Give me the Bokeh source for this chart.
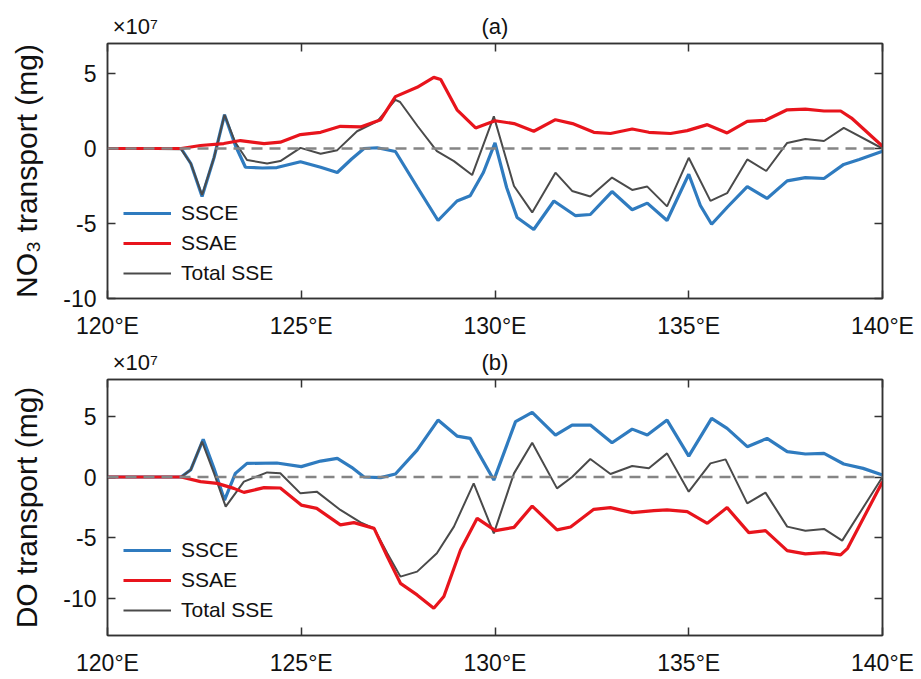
from bokeh.plotting import figure
from bokeh.models import Range1d, FixedTicker, LinearAxis, Legend, LegendItem, Span
from bokeh.layouts import column
from bokeh.embed import file_html
from bokeh.resources import INLINE

# ---------------- data (values in units of 1e7 mg) ----------------
x_ticks = [120, 125, 130, 135, 140]
x_tick_labels = ["120°E", "125°E", "130°E", "135°E", "140°E"]
y_ticks = [-10, -5, 0, 5]
y_tick_labels = ["-10", "-5", "0", "5"]
exponent_text = "×10⁷"

# Panel (a): NO3 transport
a_lon_ssce = [120.0, 121.9, 122.15, 122.44, 122.75, 123.02, 123.3, 123.56, 124.0, 124.37, 124.98,
              125.5, 125.93, 126.3, 126.62, 126.96, 127.43, 128.0, 128.53, 129.02, 129.36, 129.7,
              130.0, 130.3, 130.57, 131.0, 131.52, 132.08, 132.46, 133.02, 133.54, 133.93, 134.44,
              135.0, 135.3, 135.59, 136.0, 136.51, 137.02, 137.54, 138.01, 138.49, 139.0, 139.4, 140.0]
a_ssce = [0, 0, -1.0, -3.2, -0.6, 2.25, 0.2, -1.25, -1.3, -1.27, -0.88,
          -1.25, -1.6, -0.7, 0, 0.05, -0.2, -2.6, -4.8, -3.5, -3.15, -1.6,
          0.37, -2.6, -4.6, -5.4, -3.5, -4.48, -4.4, -2.87, -4.08, -3.64, -4.8,
          -1.72, -3.8, -5.05, -3.9, -2.54, -3.33, -2.16, -1.94, -2.0, -1.06, -0.73, -0.18]

a_lon_ssae = [120.0, 121.9, 122.4, 123.0, 123.43, 124.04, 124.46, 124.98, 125.5, 126.01, 126.53,
              127.05, 127.43, 127.99, 128.42, 128.6, 129.02, 129.5, 130.0, 130.49, 131.0, 131.56,
              132.0, 132.55, 132.98, 133.54, 133.97, 134.53, 134.96, 135.48, 135.99, 136.51,
              136.98, 137.54, 138.01, 138.49, 138.92, 139.2, 140.0]
a_ssae = [0, 0, 0.2, 0.33, 0.53, 0.33, 0.42, 0.93, 1.08, 1.48, 1.44,
          1.92, 3.46, 4.08, 4.74, 4.6, 2.58, 1.37, 1.85, 1.66, 1.15, 1.92,
          1.66, 1.08, 1.0, 1.3, 1.08, 1.0, 1.19, 1.59, 1.04, 1.81,
          1.88, 2.58, 2.62, 2.5, 2.5, 2.03, 0.15]

a_lon_total = [120.0, 121.9, 122.15, 122.44, 122.75, 123.02, 123.3, 123.6, 124.12, 124.46, 124.98,
               125.5, 125.93, 126.44, 126.96, 127.43, 127.55, 128.0, 128.5, 128.94, 129.41, 129.97,
               130.49, 130.96, 131.56, 131.99, 132.46, 133.02, 133.54, 133.93, 134.44, 135.0,
               135.56, 135.99, 136.51, 137.0, 137.54, 138.01, 138.49, 139.0, 140.0]
a_total = [0, -0.05, -1.0, -3.1, -0.6, 2.25, 0.4, -0.77, -1.0, -0.84, 0.04,
           -0.35, -0.11, 1.15, 1.81, 3.24, 3.1, 1.5, -0.18, -0.84, -1.77, 2.14,
           -2.5, -4.26, -1.61, -2.83, -3.2, -1.94, -2.76, -2.54, -3.86, -0.62,
           -3.49, -2.98, -0.73, -1.5, 0.37, 0.64, 0.5, 1.37, 0.0]

# Panel (b): DO transport
b_lon_ssce = [120.0, 121.9, 122.15, 122.47, 122.75, 123.02, 123.3, 123.6, 124.37, 125.0, 125.5,
              125.93, 126.3, 126.62, 127.05, 127.43, 127.99, 128.53, 129.02, 129.36, 129.97,
              130.53, 130.96, 131.56, 131.99, 132.46, 133.02, 133.54, 133.93, 134.44, 135.0,
              135.59, 135.99, 136.51, 137.02, 137.54, 138.01, 138.49, 139.0, 139.5, 140.0]
b_ssce = [0, 0, 0.6, 3.09, 0.7, -1.89, 0.3, 1.12, 1.15, 0.85, 1.31,
          1.53, 0.8, 0, -0.05, 0.25, 2.21, 4.67, 3.36, 3.17, -0.25,
          4.54, 5.3, 3.44, 4.26, 4.26, 2.81, 3.93, 3.44, 4.67, 1.72,
          4.81, 3.99, 2.49, 3.17, 2.08, 1.89, 1.94, 1.07, 0.71, 0.16]

b_lon_ssae = [120.0, 121.9, 122.4, 122.83, 123.26, 123.52, 124.04, 124.46, 125.0, 125.4, 126.01,
              126.36, 126.88, 127.22, 127.56, 127.99, 128.42, 128.68, 129.11, 129.54, 130.01,
              130.49, 130.96, 131.6, 131.95, 132.55, 132.98, 133.54, 134.1, 134.44, 134.96,
              135.48, 135.99, 136.55, 136.98, 137.54, 138.01, 138.49, 138.92, 139.1, 140.0]
b_ssae = [0, 0, -0.38, -0.52, -0.93, -1.26, -0.87, -0.9, -2.3, -2.57, -3.93,
          -3.74, -4.21, -6.53, -8.72, -9.67, -10.77, -9.8, -5.98, -3.39, -4.4,
          -4.13, -2.38, -4.34, -4.1, -2.65, -2.51, -2.92, -2.76, -2.7, -2.84,
          -3.8, -2.51, -4.56, -4.4, -6.04, -6.31, -6.2, -6.39, -5.85, -0.38]

b_lon_total = [120.0, 121.9, 122.15, 122.44, 122.75, 123.05, 123.52, 124.12, 124.46, 124.98, 125.4,
               126.01, 126.53, 126.88, 127.22, 127.56, 127.99, 128.5, 128.94, 129.45, 129.97,
               130.49, 130.96, 131.6, 131.99, 132.46, 132.98, 133.54, 133.97, 134.44, 135.0,
               135.56, 135.95, 136.51, 136.98, 137.54, 138.01, 138.49, 138.96, 140.0]
b_total = [0, 0, 0.6, 2.9, 0.3, -2.43, -0.38, 0.38, 0.31, -1.34, -1.2,
           -2.7, -3.72, -4.21, -6.26, -8.17, -7.76, -6.26, -4.07, -0.52, -4.62,
           0.3, 2.81, -0.93, 0.0, 1.48, 0.25, 0.9, 0.72, 1.94, -1.2,
           1.12, 1.45, -2.16, -1.28, -4.07, -4.4, -4.26, -5.22, 0.0]

series_names = ["SSCE", "SSAE", "Total SSE"]

# ---------------- style ----------------
FONT = "Liberation Sans"
BLUE = "#2f7bbf"
RED = "#e8141c"
DARK = "#4a4a4a"
DASH = "#858585"
FRAME = "#333333"
TXT = "#111111"
EXP_POS = 120.72   # horizontal anchor (centre) of the exponent text, in degrees


def make_panel(tag, ylabel, yrange, data, height, border_top, border_bottom):
    p = figure(width=921, height=height, output_backend="svg", toolbar_location=None,
               x_range=Range1d(120, 140), y_range=Range1d(*yrange),
               min_border_left=107, min_border_right=39,
               min_border_top=border_top, min_border_bottom=border_bottom)
    p.grid.visible = False
    p.outline_line_color = FRAME
    p.outline_line_width = 1.5
    p.background_fill_color = "white"
    p.border_fill_color = "white"

    for ax in (p.xaxis[0], p.yaxis[0]):
        ax.major_tick_in = 8
        ax.major_tick_out = 0
        ax.minor_tick_line_color = None
        ax.axis_line_color = FRAME
        ax.axis_line_width = 1.5
        ax.major_tick_line_color = FRAME
        ax.major_tick_line_width = 1.5
        ax.major_label_text_font = FONT
        ax.major_label_text_font_size = "23px"
        ax.major_label_text_color = TXT

    p.xaxis.ticker = FixedTicker(ticks=x_ticks)
    p.xaxis.major_label_overrides = {t: s for t, s in zip(x_ticks, x_tick_labels)}
    p.xaxis.major_label_standoff = 14

    p.yaxis.ticker = FixedTicker(ticks=y_ticks)
    p.yaxis.major_label_overrides = {t: s for t, s in zip(y_ticks, y_tick_labels)}
    p.yaxis.major_label_standoff = 11
    p.yaxis.axis_label = ylabel
    p.yaxis.axis_label_text_font = FONT
    p.yaxis.axis_label_text_font_size = "30px"
    p.yaxis.axis_label_text_font_style = "normal"
    p.yaxis.axis_label_text_color = TXT
    p.yaxis.axis_label_standoff = 17

    # top side: inward tick marks (as minor ticks) + panel tag and exponent as labels
    top = LinearAxis(ticker=FixedTicker(ticks=[EXP_POS, 130], minor_ticks=x_ticks),
                     major_label_overrides={EXP_POS: exponent_text, 130: tag},
                     major_tick_line_color=None, major_label_standoff=-1,
                     major_label_text_font=FONT, major_label_text_font_size="22px",
                     major_label_text_color=TXT,
                     minor_tick_in=8, minor_tick_out=0,
                     minor_tick_line_color=FRAME, minor_tick_line_width=1.5,
                     axis_line_color=FRAME, axis_line_width=1.5)
    right = LinearAxis(ticker=FixedTicker(ticks=[], minor_ticks=y_ticks),
                       major_tick_line_color=None,
                       minor_tick_in=8, minor_tick_out=0,
                       minor_tick_line_color=FRAME, minor_tick_line_width=1.5,
                       axis_line_color=FRAME, axis_line_width=1.5)
    p.add_layout(top, "above")
    p.add_layout(right, "right")

    (lx1, y1), (lx2, y2), (lx3, y3) = data
    r1 = p.line(lx1, y1, line_color=BLUE, line_width=3.2)
    r3 = p.line(lx3, y3, line_color=DARK, line_width=2.0)
    r2 = p.line(lx2, y2, line_color=RED, line_width=3.2)

    zero = Span(location=0, dimension="width", line_color=DASH, line_width=2.6,
                line_dash="11 7")
    p.add_layout(zero)

    legend = Legend(items=[LegendItem(label=series_names[0], renderers=[r1]),
                           LegendItem(label=series_names[1], renderers=[r2]),
                           LegendItem(label=series_names[2], renderers=[r3])],
                    location=(10, 7), glyph_width=48, glyph_height=24,
                    label_height=24, spacing=6, label_standoff=10, padding=6, margin=0,
                    label_text_font=FONT, label_text_font_size="21px",
                    label_text_color=TXT,
                    background_fill_alpha=0, border_line_alpha=0)
    p.add_layout(legend, "center")
    return p


pa = make_panel("(a)", "NO₃ transport (mg)", (-10, 7),
                [(a_lon_ssce, a_ssce), (a_lon_ssae, a_ssae), (a_lon_total, a_total)],
                341, 43, 41)
pb = make_panel("(b)", "DO transport (mg)", (-13, 8),
                [(b_lon_ssce, b_ssce), (b_lon_ssae, b_ssae), (b_lon_total, b_total)],
                338, 38, 44)

layout = column(pa, pb, spacing=0)
open("out.html", "w").write(file_html(layout, INLINE))
